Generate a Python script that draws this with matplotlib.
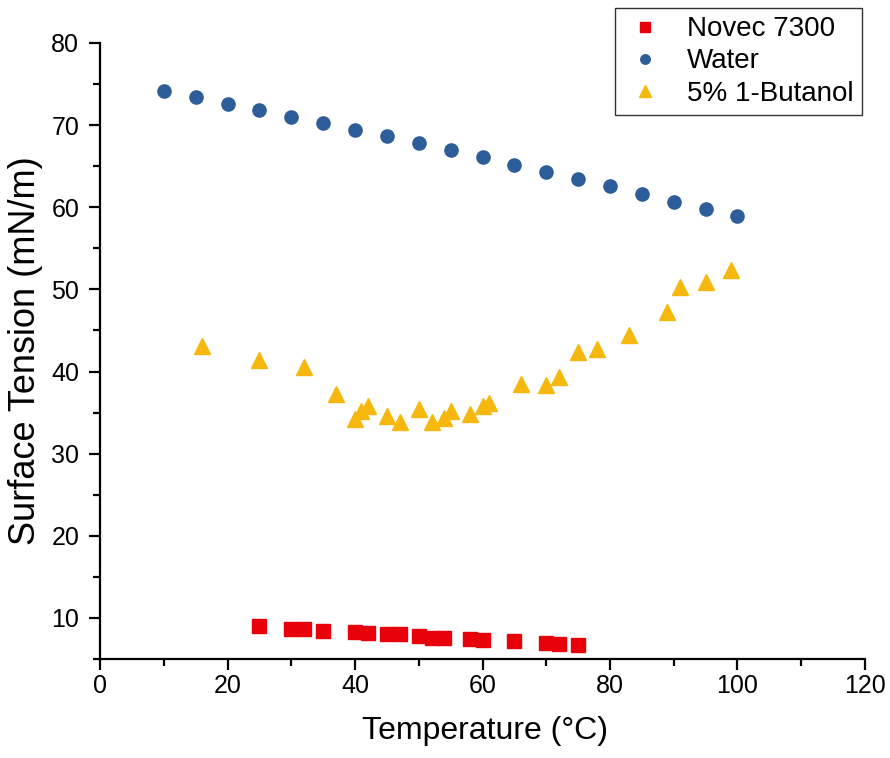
import matplotlib
matplotlib.use("Agg")
import matplotlib.pyplot as plt
from matplotlib.ticker import MultipleLocator

plt.rcParams["font.family"] = ["Liberation Sans", "DejaVu Sans"]

# Novec 7300
novec_t = [25, 30, 32, 35, 40, 42, 45, 47, 50, 52, 54, 58, 60, 65, 70, 72, 75]
novec_st = [9.0, 8.6, 8.6, 8.4, 8.3, 8.2, 8.1, 8.0, 7.8, 7.6, 7.5, 7.4, 7.3,
            7.2, 6.9, 6.8, 6.7]

# Water
water_t = [10, 15, 20, 25, 30, 35, 40, 45, 50, 55, 60, 65, 70, 75, 80, 85,
           90, 95, 100]
water_st = [74.1, 73.4, 72.6, 71.9, 71.0, 70.3, 69.4, 68.7, 67.8, 67.0, 66.1,
            65.2, 64.3, 63.5, 62.6, 61.6, 60.6, 59.8, 58.9]

# 5% 1-Butanol
but_t = [16, 25, 32, 37, 40, 41, 42, 45, 47, 50, 52, 54, 55, 58, 60, 61, 66,
         70, 72, 75, 78, 83, 89, 91, 95, 99]
but_st = [43.1, 41.4, 40.5, 37.3, 34.2, 35.2, 35.8, 34.6, 33.9, 35.4, 33.9,
          34.3, 35.2, 34.8, 35.8, 36.2, 38.5, 38.3, 39.3, 42.4, 42.8, 44.4,
          47.3, 50.3, 50.9, 52.4]

fig = plt.figure(figsize=(8.9, 7.58), dpi=100)
ax = fig.add_axes([0.1124, 0.1306, 0.8595, 0.8127])

ax.plot(novec_t, novec_st, "s", color="#E8000B", ms=9.5, mec="#E8000B",
        label="Novec 7300")
ax.plot(water_t, water_st, "o", color="#2E5E99", ms=9.5, mec="#2E5E99",
        label="Water")
ax.plot(but_t, but_st, "^", color="#F6B80E", ms=12, mec="#F6B80E",
        label="5% 1-Butanol")

ax.set_xlim(0, 120)
ax.set_ylim(5, 80)
ax.xaxis.set_major_locator(MultipleLocator(20))
ax.xaxis.set_minor_locator(MultipleLocator(10))
ax.yaxis.set_minor_locator(MultipleLocator(5))
ax.set_yticks(range(10, 81, 10))

for s in ["top", "right"]:
    ax.spines[s].set_visible(False)
for s in ["left", "bottom"]:
    ax.spines[s].set_linewidth(1.6)
ax.tick_params(which="major", direction="out", length=8, width=1.6,
               labelsize=18)
ax.tick_params(axis="x", which="major", pad=3)
ax.tick_params(axis="y", which="major", pad=7)
ax.tick_params(which="minor", direction="out", length=5, width=1.6)

ax.set_xlabel("Temperature (\u00b0C)", fontsize=23)
ax.set_ylabel("Surface Tension (mN/m)", fontsize=26)
ax.xaxis.set_label_coords(0.503, -0.093)
ax.yaxis.set_label_coords(-0.074, 0.5)

leg = ax.legend(loc="upper right", bbox_to_anchor=(862 / 890, 1 - 8 / 758),
                bbox_transform=fig.transFigure, fontsize=20, markerscale=0.72,
                frameon=True, fancybox=False, edgecolor="black",
                handletextpad=0.7, borderpad=0.3, labelspacing=0.22,
                handlelength=1.6, borderaxespad=0)
leg.get_frame().set_linewidth(1.0)

fig.savefig("out.png", dpi=100)
